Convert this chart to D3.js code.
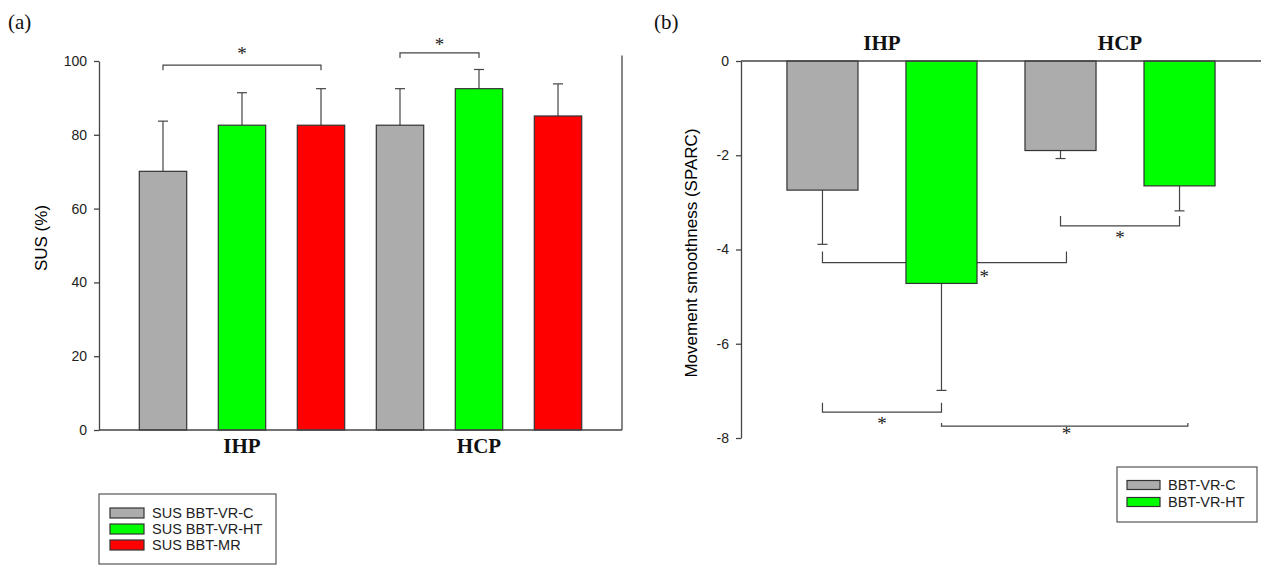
<!DOCTYPE html>
<html>
<head>
<meta charset="utf-8">
<script src="https://cdn.jsdelivr.net/npm/d3@7"></script>
<style>
body { margin: 0; background: #fff; }
svg { display: block; }
</style>
</head>
<body>
<svg id="chart" width="1261" height="567"></svg>
<script>
var groups = ["IHP", "HCP"];

// panel (a) - SUS scores
var susSeries = ["SUS BBT-VR-C", "SUS BBT-VR-HT", "SUS BBT-MR"];
var susMeanIHP = [70.1, 82.6, 82.6];
var susMeanHCP = [82.6, 92.5, 85.1];
var susSdIHP = [13.6, 8.8, 9.9];
var susSdHCP = [9.9, 5.2, 8.7];
var susTicks = [0, 20, 40, 60, 80, 100];
// [from bar, to bar, line value, tick end value, star value, star pos in bar units]
var susSig = [[0, 2, 98.9, 97.5, 102.7, 1.0], [3, 4, 102.2, 100.8, 105.1, 3.5]];

// panel (b) - movement smoothness
var sparcSeries = ["BBT-VR-C", "BBT-VR-HT"];
var sparcMeanIHP = [-2.74, -4.72];
var sparcMeanHCP = [-1.90, -2.65];
var sparcSdIHP = [1.15, 2.27];
var sparcSdHCP = [0.17, 0.53];
var sparcTicks = [0, -2, -4, -6, -8];
var sparcSig = [
    [0, 2.05, -4.28, -4.04, -4.52, 1.36],
    [2, 3, -3.50, -3.29, -3.69, 2.5],
    [0, 1, -7.45, -7.25, -7.64, 0.5],
    [1, 3.07, -7.75, -7.68, -7.85, 2.05]
];

var barColors = ["#acacac", "#00ff00", "#ff0000"];

var sans = "'Liberation Sans', Arial, sans-serif";
var serif = "'Liberation Serif', 'Times New Roman', serif";
var svg = d3.select("#chart");

function makeBars(series, meanA, meanB, sdA, sdB) {
    var out = [];
    groups.forEach(function (g, gi) {
        var m = gi == 0 ? meanA : meanB;
        var s = gi == 0 ? sdA : sdB;
        series.forEach(function (name, si) {
            out.push({ key: g + "|" + name, group: g, si: si, mean: m[si], sd: s[si] });
        });
    });
    return out;
}

function drawPanel(c) {
    var g = svg.append("g");
    var x = d3.scaleBand()
        .domain(c.bars.map(function (d) { return d.key; }))
        .range(c.xr)
        .paddingInner(c.pi)
        .paddingOuter(c.po);
    var y = d3.scaleLinear().domain(c.yd).range(c.yr);
    var first = x(c.bars[0].key) + x.bandwidth() / 2;
    var bx = function (t) { return first + t * x.step(); };

    // significance brackets (behind bars)
    c.sig.forEach(function (s) {
        g.append("path")
            .attr("d", "M" + bx(s[0]) + "," + y(s[3]) + "V" + y(s[2]) + "H" + bx(s[1]) + "V" + y(s[3]))
            .attr("fill", "none")
            .attr("stroke", "#444")
            .attr("stroke-width", 1.2);
        g.append("text")
            .attr("x", bx(s[5]))
            .attr("y", y(s[4]) + 9)
            .attr("text-anchor", "middle")
            .attr("font-family", serif)
            .attr("font-size", 19)
            .attr("fill", "#222")
            .text("*");
    });

    // error bars
    var sign = c.yd[1] > 0 ? 1 : -1;
    c.bars.forEach(function (d) {
        var cx = x(d.key) + x.bandwidth() / 2;
        var ye = y(d.mean + sign * d.sd);
        g.append("line").attr("x1", cx).attr("x2", cx)
            .attr("y1", y(d.mean)).attr("y2", ye)
            .attr("stroke", "#444").attr("stroke-width", 1.2);
        g.append("line").attr("x1", cx - 5).attr("x2", cx + 5)
            .attr("y1", ye).attr("y2", ye)
            .attr("stroke", "#444").attr("stroke-width", 1.2);
    });

    g.selectAll("rect.bar")
        .data(c.bars)
        .enter()
        .append("rect")
        .attr("class", "bar")
        .attr("x", function (d) { return x(d.key); })
        .attr("width", x.bandwidth())
        .attr("y", function (d) { return Math.min(y(0), y(d.mean)); })
        .attr("height", function (d) { return Math.abs(y(d.mean) - y(0)); })
        .attr("fill", function (d) { return barColors[d.si]; })
        .attr("stroke", "#333")
        .attr("stroke-width", 1.2);

    // axes
    var ax = g.append("g")
        .attr("transform", "translate(" + c.xr[0] + ",0)")
        .call(d3.axisLeft(y).tickValues(c.ticks).tickSize(5).tickSizeOuter(0).tickPadding(7)
            .tickFormat(function (d) { return String(d); }));
    ax.select(".domain").attr("stroke", "#444").attr("stroke-width", 1.3);
    ax.selectAll(".tick line").attr("stroke", "#444").attr("stroke-width", 1.3);
    ax.selectAll(".tick text")
        .attr("font-family", sans)
        .attr("font-size", 14)
        .attr("fill", "#222");

    g.append("line")
        .attr("x1", c.xr[0]).attr("x2", c.baseEnd)
        .attr("y1", y(0)).attr("y2", y(0))
        .attr("stroke", "#444").attr("stroke-width", 1.3);
    if (c.frameTop != null) {
        g.append("line")
            .attr("x1", c.xr[1]).attr("x2", c.xr[1])
            .attr("y1", y(c.frameTop)).attr("y2", y(0))
            .attr("stroke", "#444").attr("stroke-width", 1.3);
    }

    // group labels
    groups.forEach(function (gr) {
        var sub = c.bars.filter(function (d) { return d.group == gr; });
        var mid = d3.mean(sub, function (d) { return x(d.key) + x.bandwidth() / 2; });
        g.append("text")
            .attr("x", mid)
            .attr("y", c.labelY)
            .attr("text-anchor", "middle")
            .attr("font-family", serif)
            .attr("font-weight", "bold")
            .attr("font-size", 21)
            .attr("fill", "#111")
            .text(gr);
    });

    // y title
    g.append("text")
        .attr("transform", "translate(" + c.titleX + "," + c.titleY + ") rotate(-90)")
        .attr("text-anchor", "middle")
        .attr("font-family", sans)
        .attr("font-size", 17)
        .attr("fill", "#000")
        .text(c.title);

    g.append("text")
        .attr("x", c.tagX)
        .attr("y", 29)
        .attr("font-family", serif)
        .attr("font-size", 21)
        .attr("fill", "#111")
        .text(c.tag);
}

function legend(series, bx, by, bw, bh, rowY, step, swX, swW, swH, txtX) {
    var g = svg.append("g");
    g.append("rect")
        .attr("x", bx).attr("y", by).attr("width", bw).attr("height", bh)
        .attr("fill", "#fff").attr("stroke", "#555").attr("stroke-width", 1.2);
    series.forEach(function (name, i) {
        var cy = rowY + i * step;
        g.append("rect")
            .attr("x", swX).attr("y", cy - swH / 2).attr("width", swW).attr("height", swH)
            .attr("fill", barColors[i]).attr("stroke", "#333").attr("stroke-width", 1.2);
        g.append("text")
            .attr("x", txtX).attr("y", cy).attr("dy", "0.36em")
            .attr("font-family", sans).attr("font-size", 14.5).attr("fill", "#222")
            .text(name);
    });
}

drawPanel({
    bars: makeBars(susSeries, susMeanIHP, susMeanHCP, susSdIHP, susSdHCP),
    xr: [99, 622], pi: 0.4, po: 0.51,
    yd: [0, 100], yr: [430, 61],
    ticks: susTicks, sig: susSig,
    baseEnd: 622, frameTop: 101.5,
    labelY: 453, title: "SUS (%)", titleX: 47, titleY: 238,
    tag: "(a)", tagX: 8
});

drawPanel({
    bars: makeBars(sparcSeries, sparcMeanIHP, sparcMeanHCP, sparcSdIHP, sparcSdHCP),
    xr: [741, 1261], pi: 0.403, po: 0.386,
    yd: [-8, 0], yr: [438, 61],
    ticks: sparcTicks, sig: sparcSig,
    baseEnd: 1261, frameTop: null,
    labelY: 50, title: "Movement smoothness (SPARC)", titleX: 697, titleY: 253,
    tag: "(b)", tagX: 654
});

legend(susSeries, 99, 494, 177, 70, 513, 16, 110, 34, 10, 152);
legend(sparcSeries, 1117, 467, 140, 55, 485, 17, 1127, 33, 9, 1168);
</script>
</body>
</html>
